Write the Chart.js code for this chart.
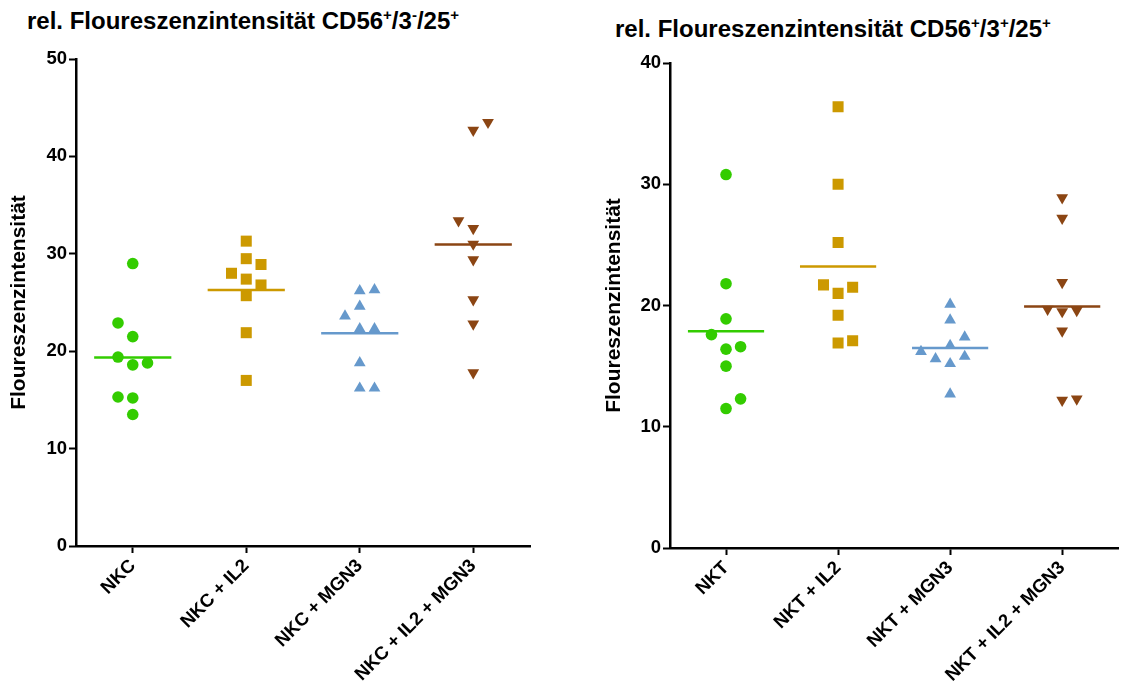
<!DOCTYPE html>
<html>
<head>
    <title>Floureszenzintensität</title>
    <meta charset="UTF-8">
    <script src="https://cdn.jsdelivr.net/npm/chart.js"></script>
    <style>
        body {
            margin: 0;
            width: 1124px;
            height: 689px;
            overflow: hidden;
            background: white;
            font-family: Arial, "Liberation Sans", sans-serif;
            position: relative;
        }
        .titel {
            position: absolute;
            font-weight: bold;
            font-size: 24px;
            color: #000;
            white-space: nowrap;
        }
        .titel sup {
            font-size: 15px;
            vertical-align: 9px;
            line-height: 0;
        }
        .box {
            position: absolute;
            top: 0;
            height: 689px;
        }
    </style>
</head>
<body>
    <div class="titel" style="left:27px; top:7px;">rel. Floureszenzintensität CD56<sup>+</sup>/3<sup>-</sup>/25<sup>+</sup></div>
    <div class="titel" style="left:615px; top:15px;">rel. Floureszenzintensität CD56<sup>+</sup>/3<sup>+</sup>/25<sup>+</sup></div>

    <div class="box" style="left:0; width:560px;"><canvas id="links"></canvas></div>
    <div class="box" style="left:560px; width:566px;"><canvas id="rechts"></canvas></div>

    <script>
        // Gruppen
        const gruppenNKC = ['NKC', 'NKC + IL2', 'NKC + MGN3', 'NKC + IL2 + MGN3'];
        const gruppenNKT = ['NKT', 'NKT + IL2', 'NKT + MGN3', 'NKT + IL2 + MGN3'];

        // Messwerte CD56+/3-/25+
        const nkc = [29.0, 22.9, 21.5, 19.4, 18.6, 18.8, 15.3, 15.2, 13.5];
        const nkcIL2 = [31.3, 29.5, 28.9, 28.0, 27.4, 26.8, 25.7, 21.9, 17.0];
        const nkcMGN3 = [26.2, 26.3, 24.6, 23.6, 22.3, 22.3, 18.8, 16.2, 16.2];
        const nkcIL2MGN3 = [43.5, 42.7, 33.4, 32.6, 31.0, 29.4, 25.3, 22.8, 17.8];

        // Messwerte CD56+/3+/25+
        const nkt = [30.8, 21.8, 18.9, 17.6, 16.4, 16.6, 15.0, 12.3, 11.5];
        const nktIL2 = [36.4, 30.0, 25.2, 21.7, 21.5, 21.0, 19.2, 16.9, 17.1];
        const nktMGN3 = [20.1, 18.8, 17.4, 16.7, 16.2, 15.6, 15.8, 15.2, 12.7];
        const nktIL2MGN3 = [28.9, 27.2, 21.9, 19.7, 19.5, 19.6, 17.9, 12.2, 12.3];

        // Spalte innerhalb der Gruppe (Streuung gleicher Werte nebeneinander)
        const spNkc = [0, -1, 0, -1, 0, 1, -1, 0, 0];
        const spNkcIL2 = [0, 0, 1, -1, 0, 1, 0, 0, 0];
        const spNkcMGN3 = [0, 1, 0, -1, 0, 1, 0, 0, 1];
        const spNkcIL2MGN3 = [1, 0, -1, 0, 0, 0, 0, 0, 0];
        const spNkt = [0, 0, 0, -1, 0, 1, 0, 1, 0];
        const spNktIL2 = [0, 0, 0, -1, 1, 0, 0, 0, 1];
        const spNktMGN3 = [0, 0, 1, 0, -2, -1, 1, 0, 0];
        const spNktIL2MGN3 = [0, 0, 0, -1, 0, 1, 0, 0, 1];

        const yTicksLinks = [0, 10, 20, 30, 40, 50];
        const yTicksRechts = [0, 10, 20, 30, 40];

        const farben = ['#33cc00', '#cc9900', '#6699cc', '#8b4513'];
        const symbole = [
            { style: 'circle', radius: 5.8, rotation: 0 },
            { style: 'rect', radius: 7.8, rotation: 0 },
            { style: 'triangle', radius: 6.8, rotation: 0 },
            { style: 'triangle', radius: 6.8, rotation: 180 }
        ];

        const spaltenBreite = 0.13;
        const mittelBreite = 0.34;

        function mittelwert(werte) {
            return werte.reduce((s, v) => s + v, 0) / werte.length;
        }

        function datensaetze(reihen, spalten) {
            const sets = [];
            reihen.forEach((werte, i) => {
                const pos = i + 1;
                sets.push({
                    type: 'scatter',
                    data: werte.map((v, k) => ({ x: pos + spalten[i][k] * spaltenBreite, y: v })),
                    backgroundColor: farben[i],
                    borderWidth: 0,
                    pointStyle: symbole[i].style,
                    pointRadius: symbole[i].radius,
                    pointRotation: symbole[i].rotation,
                    pointHoverRadius: symbole[i].radius
                });
                // Mittelwertlinie
                const m = mittelwert(werte);
                sets.push({
                    type: 'line',
                    data: [{ x: pos - mittelBreite, y: m }, { x: pos + mittelBreite, y: m }],
                    borderColor: farben[i],
                    borderWidth: 2.5,
                    pointRadius: 0,
                    showLine: true
                });
            });
            return sets;
        }

        const schrift = { family: 'Arial, "Liberation Sans", sans-serif', weight: 'bold', size: 18.5 };

        function zeichne(id, gruppen, reihen, spalten, yTicks, opt) {
            new Chart(document.getElementById(id), {
                type: 'scatter',
                data: { datasets: datensaetze(reihen, spalten) },
                options: {
                    responsive: true,
                    maintainAspectRatio: false,
                    animation: false,
                    layout: { padding: { top: opt.top, right: opt.right, left: 0, bottom: 0 } },
                    plugins: {
                        legend: { display: false },
                        tooltip: { enabled: false }
                    },
                    scales: {
                        x: {
                            type: 'linear',
                            min: 0.5,
                            max: 4.5,
                            afterBuildTicks: s => { s.ticks = gruppen.map((g, i) => ({ value: i + 1 })); },
                            afterFit: s => { s.height = opt.xHoehe; },
                            grid: { drawOnChartArea: false, tickLength: 7, tickWidth: 2, tickColor: '#000' },
                            border: { color: '#000', width: 2.5 },
                            ticks: {
                                color: '#000',
                                font: schrift,
                                minRotation: 45,
                                maxRotation: 45,
                                padding: 2,
                                autoSkip: false,
                                callback: v => gruppen[Math.round(v) - 1]
                            }
                        },
                        y: {
                            min: 0,
                            max: yTicks[yTicks.length - 1],
                            afterBuildTicks: s => { s.ticks = yTicks.map(v => ({ value: v })); },
                            afterFit: s => { s.width = opt.yBreite; },
                            grid: { drawOnChartArea: false, tickLength: 7, tickWidth: 2, tickColor: '#000' },
                            border: { color: '#000', width: 2.5 },
                            ticks: { color: '#000', font: schrift, padding: 2 },
                            title: {
                                display: true,
                                text: 'Floureszenzintensität',
                                color: '#000',
                                font: { family: schrift.family, weight: 'bold', size: 21 },
                                padding: { top: opt.titelAbstand, bottom: 0 }
                            }
                        }
                    }
                }
            });
        }

        zeichne('links', gruppenNKC, [nkc, nkcIL2, nkcMGN3, nkcIL2MGN3],
            [spNkc, spNkcIL2, spNkcMGN3, spNkcIL2MGN3], yTicksLinks,
            { top: 59, right: 30, xHoehe: 143, yBreite: 76, titelAbstand: 7 });

        zeichne('rechts', gruppenNKT, [nkt, nktIL2, nktMGN3, nktIL2MGN3],
            [spNkt, spNktIL2, spNktMGN3, spNktIL2MGN3], yTicksRechts,
            { top: 63, right: 0, xHoehe: 141, yBreite: 110, titelAbstand: 42 });
    </script>
</body>
</html>
